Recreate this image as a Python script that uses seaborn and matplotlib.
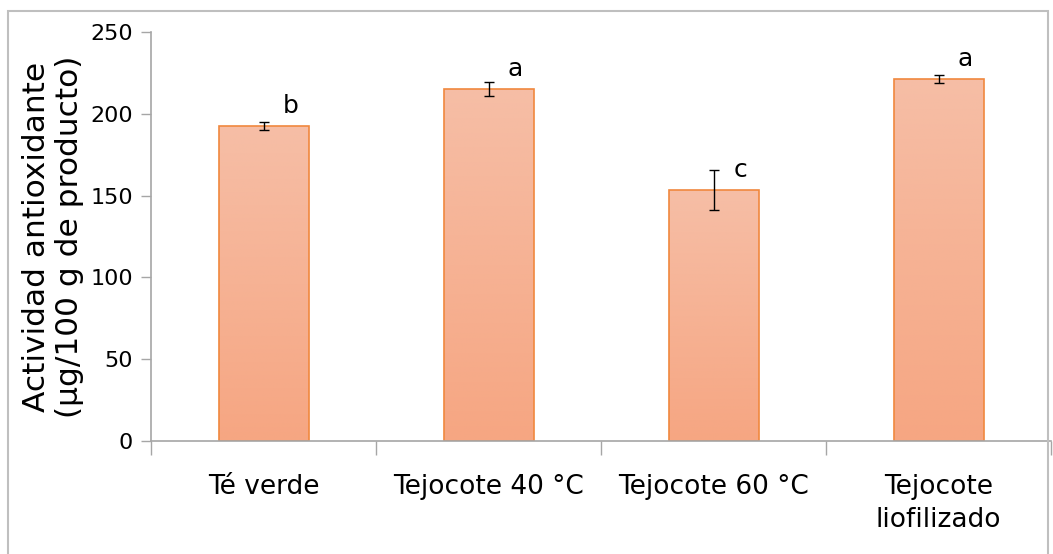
import numpy as np
import pandas as pd
import matplotlib
matplotlib.use("Agg")
import matplotlib.pyplot as plt
from matplotlib.patches import Rectangle
from matplotlib.colors import LinearSegmentedColormap
import seaborn as sns

# Data
categorias = ["Té verde", "Tejocote 40 °C", "Tejocote 60 °C", "Tejocote\nliofilizado"]
actividad = [192.5, 215.2, 153.4, 221.3]
error = [2.5, 4.5, 12.2, 2.2]
letras = ["b", "a", "c", "a"]

sns.set_theme(style="white")
plt.rcParams["font.family"] = ["DejaVu Sans"]

df = pd.DataFrame({"cat": categorias, "val": actividad})

fig = plt.figure(figsize=(10.53, 5.54), dpi=100)
ax = fig.add_axes([151 / 1053, 1 - 441 / 554, 900 / 1053, (441 - 32) / 554])

sns.barplot(data=df, x="cat", y="val", ax=ax, width=0.4,
            color="#F6B094", edgecolor="#F0883E", linewidth=1.2, errorbar=None)

# gradient fill clipped to each bar
cmap = LinearSegmentedColormap.from_list("grad", ["#F6A682", "#F6BEA6"])
grad = np.linspace(0, 1, 256).reshape(-1, 1)
for p in ax.patches:
    x0, y0 = p.get_x(), p.get_y()
    w, h = p.get_width(), p.get_height()
    im = ax.imshow(grad, cmap=cmap, origin="lower", aspect="auto",
                   extent=[x0, x0 + w, y0, y0 + h], zorder=p.get_zorder() - 0.1)
    im.set_clip_path(p)
    p.set_facecolor("none")

xs = np.arange(len(categorias))
ax.errorbar(xs, actividad, yerr=error, fmt="none", ecolor="black",
            elinewidth=1, capsize=3.5, capthick=1, zorder=5)

for i, (v, l) in enumerate(zip(actividad, letras)):
    ax.text(i + 0.12, v + 12, l, ha="center", va="center", fontsize=18, color="black")

ax.set_xlim(-0.5, len(categorias) - 0.5)
ax.set_ylim(0, 250)
ax.set_yticks(np.arange(0, 251, 50))
ax.set_xlabel("")
ax.set_ylabel("Actividad antioxidante\n(µg/100 g de producto)", fontsize=22.5,
              linespacing=1.2, color="black")
ax.yaxis.set_label_coords(-0.074, 0.5)

for s in ["top", "right"]:
    ax.spines[s].set_visible(False)
for s in ["left", "bottom"]:
    ax.spines[s].set_color("#A6A6A6")
    ax.spines[s].set_linewidth(1.2)

ax.tick_params(axis="y", which="major", direction="out", length=7, width=1,
               color="#A6A6A6", labelsize=16, pad=6, left=True, labelcolor="black")
ax.set_xticks(np.arange(-0.5, len(categorias)), minor=True)
ax.tick_params(axis="x", which="minor", direction="out", length=10, width=1,
               color="#A6A6A6", bottom=True)
ax.tick_params(axis="x", which="major", length=0, labelsize=19, pad=24,
               labelcolor="black")
for t in ax.get_xticklabels():
    t.set_linespacing(1.35)
    t.set_va("top")

# outer chart frame
fig.patches.append(Rectangle((8 / 1053, -0.05), (1048 - 8) / 1053, 1.05 - 11 / 554,
                             transform=fig.transFigure, fill=False,
                             edgecolor="#BFBFBF", linewidth=1.5))

fig.savefig("out.png", dpi=100)
